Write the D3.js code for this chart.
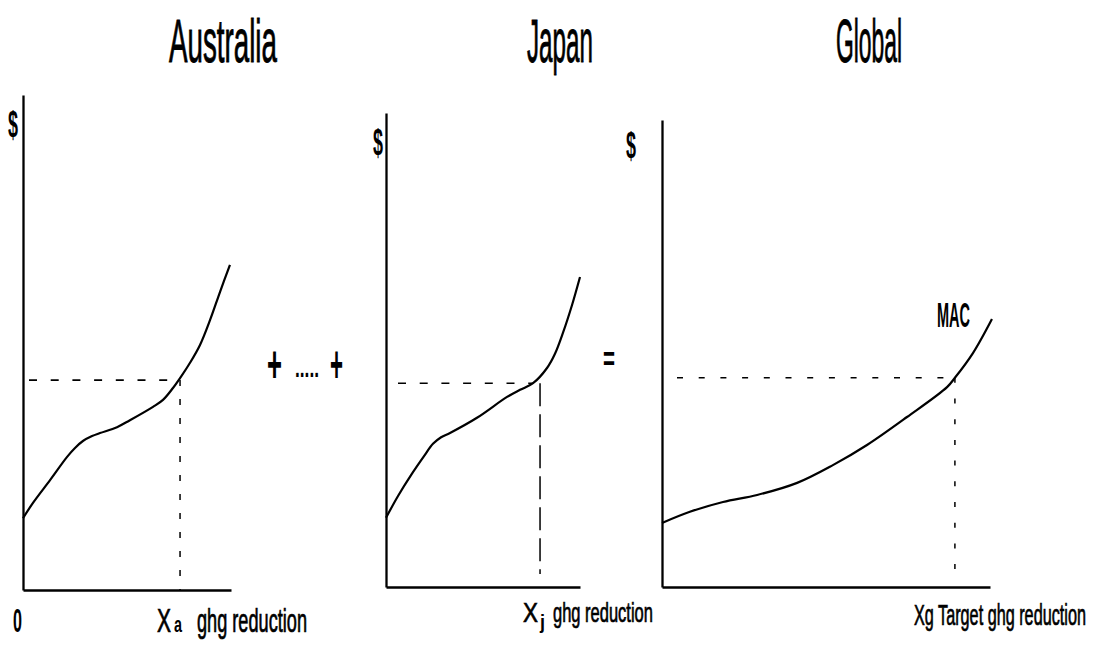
<!DOCTYPE html>
<html>
<head>
<meta charset="utf-8">
<script src="https://cdn.jsdelivr.net/npm/d3@7/dist/d3.min.js"></script>
<style>
  html, body { margin: 0; padding: 0; background: #fff; }
  svg { display: block; }
  text { font-family: 'Liberation Sans Narrow', 'Liberation Sans', Arial, sans-serif; fill: #000; }
</style>
</head>
<body>
<svg id="chart" width="1096" height="647"></svg>
<script>
// ---------------- DATA ----------------
const titles = ["Australia", "Japan", "Global"];
const yAxisLabel = "$";

// Marginal abatement cost curves (x: ghg reduction 0-100, y: $ 0-100)
const australiaX = [0, 4.8, 13.0, 21.2, 25.0, 28.8, 33.2, 37.0, 45.2, 51.4, 62.5, 67.3, 72.1, 75.5, 80.3, 85.1, 89.9, 94.7, 99.5];
const australiaY = [14.5, 17.6, 22.2, 26.9, 28.7, 30.1, 31.1, 31.7, 32.9, 34.3, 37.0, 38.4, 40.8, 42.8, 45.9, 49.5, 54.5, 60.2, 65.7];

const japanX = [0, 6.2, 12.9, 19.6, 24.2, 28.4, 33.0, 46.9, 62.4, 69.1, 75.8, 83.0, 87.1, 91.2, 95.9, 100];
const japanY = [14.6, 19.2, 23.6, 27.6, 30.2, 31.6, 32.5, 35.7, 40.1, 41.6, 43.0, 46.2, 49.2, 53.6, 59.5, 65.4];

const globalX = [0, 8.5, 18.6, 29.0, 41.2, 52.1, 62.5, 74.7, 86.9, 89.3, 94.8, 100.6];
const globalY = [13.7, 16.1, 18.2, 19.7, 22.3, 26.1, 30.4, 36.4, 42.8, 44.8, 50.1, 57.4];

// Target reduction (vertical dashed) and target cost (horizontal dashed)
const targetX = [75.5, 79.4, 89.3];
const targetY = [42.4, 43.0, 44.8];
const hDashEnd = [75.5, 75.8, 89.3];

const curveLabel = "MAC";
const operators = ["+", ".....", "+", "="];

// ---------------- LAYOUT ----------------
const svg = d3.select("#chart");
svg.append("rect").attr("width", 1096).attr("height", 647).attr("fill", "#fff");

const panels = [
  { xr: [23, 231], yr: [590, 95], xs: australiaX, ys: australiaY,
    hDash: "8,13.7", hOff: -4, vDash: "6,13", vEnd: 590 },
  { xr: [386, 580], yr: [587, 113], xs: japanX, ys: japanY,
    hDash: "8,13.7", hOff: -10, vDash: "23,8", vEnd: 574 },
  { xr: [662, 990], yr: [587, 120], xs: globalX, ys: globalY,
    hDash: "6,15.7", hOff: -13, vDash: "5,15.7", vEnd: 574 }
];

panels.forEach((p, i) => {
  const x = d3.scaleLinear().domain([0, 100]).range(p.xr);
  const y = d3.scaleLinear().domain([0, 100]).range(p.yr);
  const g = svg.append("g");

  // axes (no ticks)
  const ax = g.append("g").attr("transform", `translate(0,${y(0)})`)
    .call(d3.axisBottom(x).ticks(0).tickSizeOuter(0));
  const ay = g.append("g").attr("transform", `translate(${x(0)},0)`)
    .call(d3.axisLeft(y).ticks(0).tickSizeOuter(0));
  [ax, ay].forEach(a => a.select(".domain").attr("stroke", "#000").attr("stroke-width", 2.3));

  // dashed guide lines
  g.append("line")
    .attr("x1", x(0) + 2).attr("x2", x(hDashEnd[i]))
    .attr("y1", y(targetY[i])).attr("y2", y(targetY[i]))
    .attr("stroke", "#000").attr("stroke-width", 1.6)
    .attr("stroke-dasharray", p.hDash).attr("stroke-dashoffset", p.hOff);
  g.append("line")
    .attr("x1", x(targetX[i])).attr("x2", x(targetX[i]))
    .attr("y1", y(targetY[i])).attr("y2", p.vEnd)
    .attr("stroke", "#000").attr("stroke-width", 1.5)
    .attr("stroke-dasharray", p.vDash);

  // curve
  const pts = p.xs.map((v, k) => [v, p.ys[k]]);
  g.append("path").datum(pts)
    .attr("fill", "none").attr("stroke", "#000").attr("stroke-width", 2.2)
    .attr("d", d3.line().x(d => x(d[0])).y(d => y(d[1])).curve(d3.curveCatmullRom.alpha(0.5)));
});

// ---------------- TEXT ----------------
// Text is drawn at its natural size, then squeezed horizontally to the condensed width.
function txt(s, xp, yp, size, len, weight, sw) {
  const t = svg.append("text").attr("x", 0).attr("y", 0)
    .attr("font-size", size).attr("font-weight", weight || "normal").text(s);
  if (sw) t.attr("stroke", "#000").attr("stroke-width", sw).attr("vector-effect", "non-scaling-stroke");
  const w = t.node().getComputedTextLength() || len;
  t.attr("transform", `translate(${xp},${yp}) scale(${len / w},1)`);
  return t;
}

// titles
[[titles[0], 169, 108], [titles[1], 527, 66], [titles[2], 836, 66]].forEach(t => {
  txt(t[0], t[1], 62, 61, t[2], "normal", 0.7);
});

// y labels
txt(yAxisLabel, 8, 137, 37, 10, "bold");
txt(yAxisLabel, 373, 155, 37, 10, "bold");
txt(yAxisLabel, 626, 158, 37, 10, "bold");

// x labels
txt("0", 13, 632, 33, 9, "bold");
txt("X", 157, 632, 33, 14, "normal", 0.6);
txt("a", 174, 632, 22, 8, "bold");
txt("ghg reduction", 197, 632, 33, 110, "normal", 0.6);

txt("X", 523, 622, 28, 15, "normal", 0.6);
txt("j", 540, 629, 20, 5, "bold");
txt("ghg reduction", 553, 622, 28, 100, "normal", 0.6);

txt("Xg Target ghg reduction", 914, 625, 30, 172, "normal", 0.6);

// curve label
txt(curveLabel, 937, 327, 36, 33, "bold");

// operators
txt(operators[0], 267, 382, 52, 15, "bold");
txt(operators[1], 295, 377, 28, 24, "bold");
txt(operators[2], 330, 382, 52, 13, "bold");
txt(operators[3], 603, 371, 36, 12, "bold");
</script>
</body>
</html>
